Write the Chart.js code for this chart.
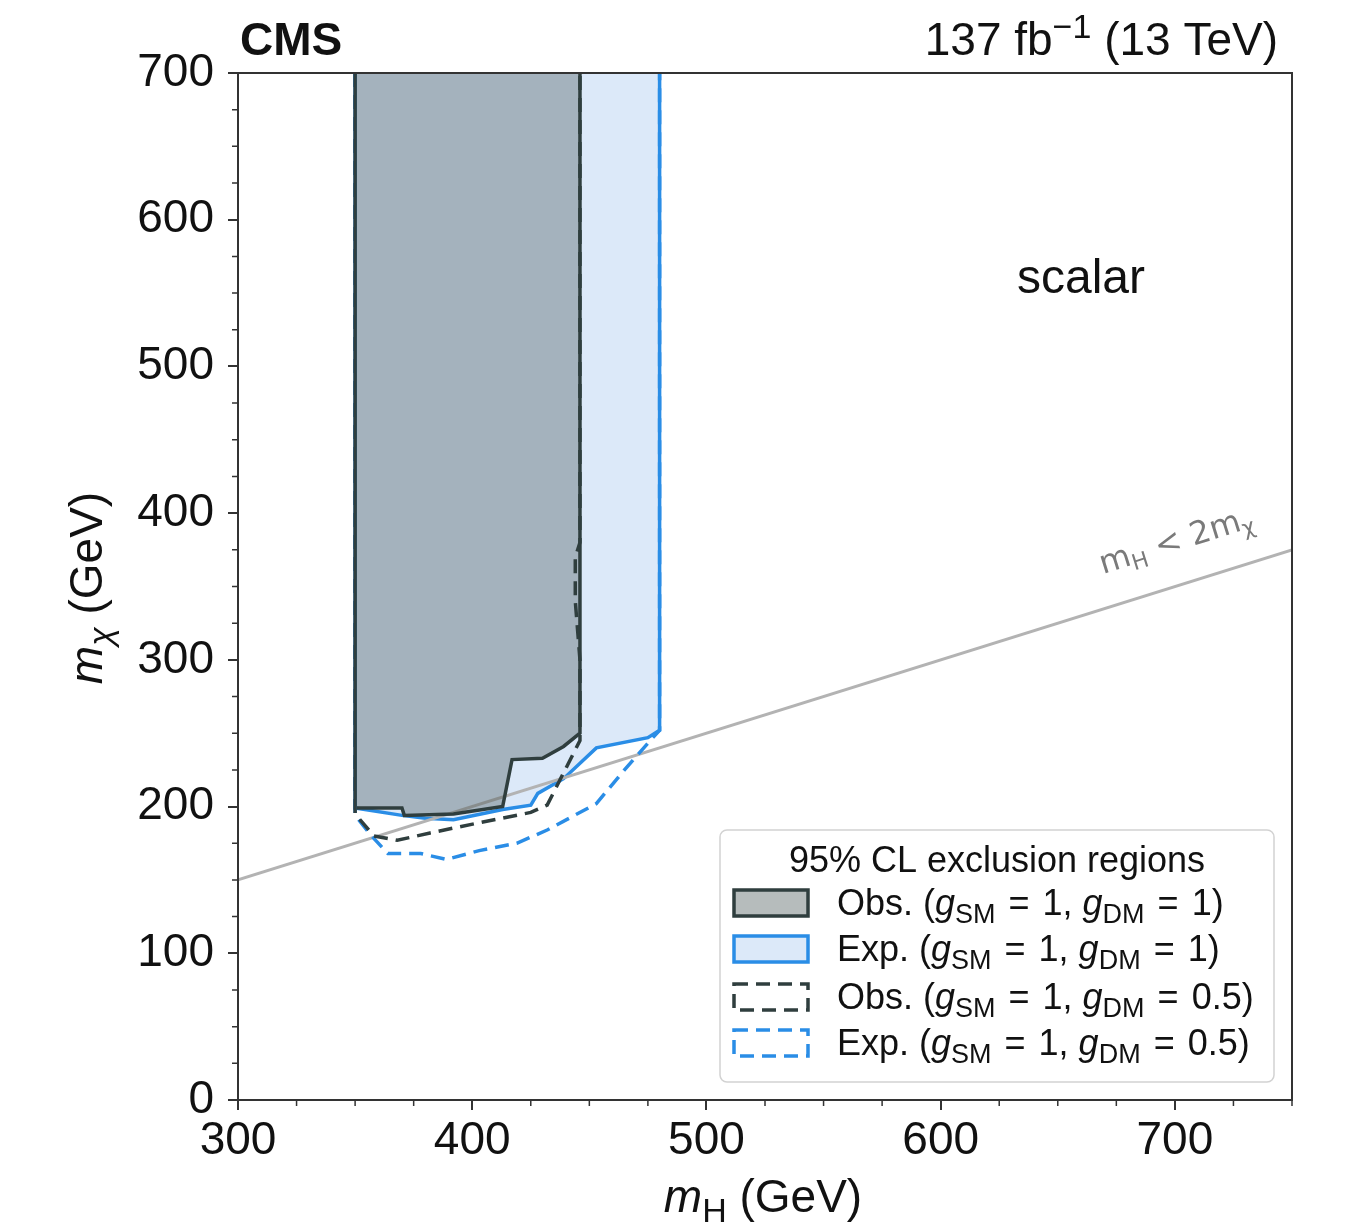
<!DOCTYPE html>
<html>
<head>
<meta charset="utf-8">
<title>Scalar mediator exclusion</title>
<script src="https://cdn.jsdelivr.net/npm/chart.js@4/dist/chart.umd.min.js"></script>
<style>
  html, body { margin: 0; padding: 0; background: #fff; }
  #wrap { width: 1363px; height: 1224px; }
</style>
</head>
<body>
<div id="wrap"><canvas id="chart" width="1363" height="1224"></canvas></div>
<script>
// contours in (mH, mchi) GeV, closed above the plot top
const obsG1 = [[350,760],[350,199],[370,199],[371,194],[392,195],[413,200],[417,232],[430,233],[439,241],[446,250],[446,760]];
const expG1 = [[350,760],[350,199],[370,194],[380,192],[392,191],[413,198],[425,201],[428,209],[439,219],[453,240],[475,247],[480,252],[480,760]];
const obsG05 = [[350,760],[350,195],[358,180],[368,177],[382,182],[403,189],[425,196],[432,201],[439,223],[446,245],[446,300],[444,340],[444,370],[446,380],[446,760]];
const expG05 = [[350,760],[350,194],[357,180],[364,168],[378,168],[389,164],[403,170],[419,175],[432,184],[453,202],[465,225],[476,245],[480,252],[480,760]];
const kinLine = [[300,150],[750,375]];

const xTicks = [300, 400, 500, 600, 700];
const yTicks = [0, 100, 200, 300, 400, 500, 600, 700];
const minorStep = 25;

const legendTitle = "95% CL exclusion regions";
const legendRows = [
  { label: "Obs.", gdm: "1" },
  { label: "Exp.", gdm: "1" },
  { label: "Obs.", gdm: "0.5" },
  { label: "Exp.", gdm: "0.5" }
];

const FONT = "'Liberation Sans', Arial, Helvetica, sans-serif";
const DARK = "#2f3e3e";
const BLUE = "#2a8de6";
const OBS_FILL = "rgba(47,62,62,0.32)";
const EXP_FILL = "#dce9f9";
const EQ = " \u200a=\u200a ";

const pts = (arr) => arr.map(([x, y]) => ({ x, y }));

// draws a run of text pieces: plain, italic, subscript or superscript
function richText(ctx, parts, x, y, size, align) {
  const fontFor = (p) => (p.i ? "italic " : "") + Math.round(p.sub || p.sup ? size * 0.74 : size) + "px " + FONT;
  let total = 0;
  parts.forEach(p => { ctx.font = fontFor(p); total += ctx.measureText(p.t).width; });
  let cx = align === "center" ? x - total / 2 : align === "right" ? x - total : x;
  parts.forEach(p => {
    ctx.font = fontFor(p);
    const dy = p.sub ? size * 0.22 : p.sup ? -size * 0.38 : 0;
    ctx.fillText(p.t, cx, y + dy);
    cx += ctx.measureText(p.t).width;
  });
}

const decor = {
  id: "decor",
  afterDraw(chart) {
    const { ctx, chartArea: a, scales: { x, y } } = chart;
    ctx.save();

    // frame
    ctx.strokeStyle = "#333";
    ctx.lineWidth = 2;
    ctx.strokeRect(a.left, a.top, a.right - a.left, a.bottom - a.top);

    // minor ticks
    ctx.lineWidth = 1.5;
    ctx.beginPath();
    for (let v = 300; v <= 750; v += minorStep) {
      if (v % 100 === 0) continue;
      const px = x.getPixelForValue(v);
      ctx.moveTo(px, a.bottom); ctx.lineTo(px, a.bottom + 6);
    }
    for (let v = 0; v <= 700; v += minorStep) {
      if (v % 100 === 0) continue;
      const py = y.getPixelForValue(v);
      ctx.moveTo(a.left, py); ctx.lineTo(a.left - 6, py);
    }
    ctx.stroke();

    ctx.fillStyle = "#111";
    ctx.textBaseline = "alphabetic";
    ctx.textAlign = "left";

    // header
    ctx.font = "bold 46px " + FONT;
    ctx.fillText("CMS", a.left + 2, 55);
    richText(ctx, [{ t: "137 fb" }, { t: "\u22121", sup: true }, { t: " (13 TeV)" }], 1278, 55, 46, "right");

    // region label
    ctx.font = "48px " + FONT;
    ctx.textAlign = "center";
    ctx.fillText("scalar", 1081, 293);
    ctx.textAlign = "left";

    // axis titles
    richText(ctx, [{ t: "m", i: true }, { t: "H", sub: true }, { t: " (GeV)" }], 763, 1212, 46, "center");
    ctx.save();
    ctx.translate(102, 588);
    ctx.rotate(-Math.PI / 2);
    richText(ctx, [{ t: "m", i: true }, { t: "\u03c7", sub: true, i: true }, { t: " (GeV)" }], 0, 0, 46, "center");
    ctx.restore();

    // kinematic line label, along the line
    const p0 = { px: x.getPixelForValue(kinLine[0][0]), py: y.getPixelForValue(kinLine[0][1]) };
    const p1 = { px: x.getPixelForValue(kinLine[1][0]), py: y.getPixelForValue(kinLine[1][1]) };
    const ang = Math.atan2(p1.py - p0.py, p1.px - p0.px);
    ctx.save();
    ctx.translate(1103, 574);
    ctx.rotate(ang);
    ctx.fillStyle = "#7a7a7a";
    const sz = 32;
    let cx = 0;
    const seg = (t, s, dy) => {
      ctx.font = Math.round(s) + "px 'DejaVu Sans', sans-serif";
      ctx.fillText(t, cx, dy);
      cx += ctx.measureText(t).width;
    };
    seg("m", sz, 0); seg("H", sz * 0.7, 6); seg(" < 2m", sz, 0); seg("\u03c7", sz * 0.7, 6);
    ctx.restore();

    // legend
    const L = { l: 720, t: 830, r: 1274, b: 1082 };
    ctx.beginPath();
    ctx.roundRect(L.l, L.t, L.r - L.l, L.b - L.t, 7);
    ctx.fillStyle = "rgba(255,255,255,0.85)";
    ctx.fill();
    ctx.strokeStyle = "#d2d2d2";
    ctx.lineWidth = 1.5;
    ctx.stroke();

    ctx.fillStyle = "#111";
    ctx.font = "36px " + FONT;
    ctx.textAlign = "center";
    ctx.fillText(legendTitle, (L.l + L.r) / 2, 872);
    ctx.textAlign = "left";

    const rowY = [903, 949, 997, 1043];
    const styles = [
      { fill: "#b6bcbc", stroke: DARK, dash: [] },
      { fill: EXP_FILL, stroke: BLUE, dash: [] },
      { fill: null, stroke: DARK, dash: [14, 8] },
      { fill: null, stroke: BLUE, dash: [14, 8] }
    ];
    legendRows.forEach((row, i) => {
      const st = styles[i];
      const cy = rowY[i];
      ctx.save();
      ctx.setLineDash(st.dash);
      ctx.lineWidth = 3.5;
      ctx.strokeStyle = st.stroke;
      if (st.fill) { ctx.fillStyle = st.fill; ctx.fillRect(734, cy - 13, 74, 26); }
      ctx.strokeRect(734, cy - 13, 74, 26);
      ctx.restore();
      ctx.fillStyle = "#111";
      richText(ctx, [
        { t: row.label + " (" }, { t: "g", i: true }, { t: "SM", sub: true },
        { t: EQ + "1, " }, { t: "g", i: true }, { t: "DM", sub: true },
        { t: EQ + row.gdm + ")" }
      ], 837, cy + 12, 36, "left");
    });

    ctx.restore();
  }
};

const lineDs = (data, color, extra) => Object.assign({
  data: pts(data),
  showLine: true,
  borderColor: color,
  borderWidth: 3.5,
  pointRadius: 0,
  tension: 0,
  fill: false
}, extra);

new Chart(document.getElementById("chart"), {
  type: "scatter",
  data: {
    datasets: [
      lineDs(obsG05, DARK, { borderDash: [14, 8] }),
      lineDs(expG05, BLUE, { borderDash: [14, 8] }),
      lineDs(obsG1, DARK, { fill: "shape", backgroundColor: OBS_FILL }),
      lineDs(kinLine, "#b3b3b3", { borderWidth: 3 }),
      lineDs(expG1, BLUE, { fill: "shape", backgroundColor: EXP_FILL })
    ]
  },
  options: {
    responsive: false,
    devicePixelRatio: 1,
    animation: false,
    layout: { padding: { top: 73, right: 71, left: 0, bottom: 0 } },
    plugins: { legend: { display: false }, tooltip: { enabled: false } },
    scales: {
      x: {
        type: "linear", min: 300, max: 750,
        afterBuildTicks: (s) => { s.ticks = xTicks.map(v => ({ value: v })); },
        afterFit: (s) => { s.height = 124; },
        ticks: { color: "#111", font: { size: 46, family: FONT }, padding: 4, maxRotation: 0, autoSkip: false },
        grid: { drawOnChartArea: false, tickLength: 10, color: "#333", lineWidth: 2 },
        border: { color: "#333", width: 2 }
      },
      y: {
        type: "linear", min: 0, max: 700,
        afterBuildTicks: (s) => { s.ticks = yTicks.map(v => ({ value: v })); },
        afterFit: (s) => { s.width = 238; },
        ticks: { color: "#111", font: { size: 46, family: FONT }, padding: 14, autoSkip: false },
        grid: { drawOnChartArea: false, tickLength: 10, color: "#333", lineWidth: 2 },
        border: { color: "#333", width: 2 }
      }
    }
  },
  plugins: [decor]
});
</script>
</body>
</html>
